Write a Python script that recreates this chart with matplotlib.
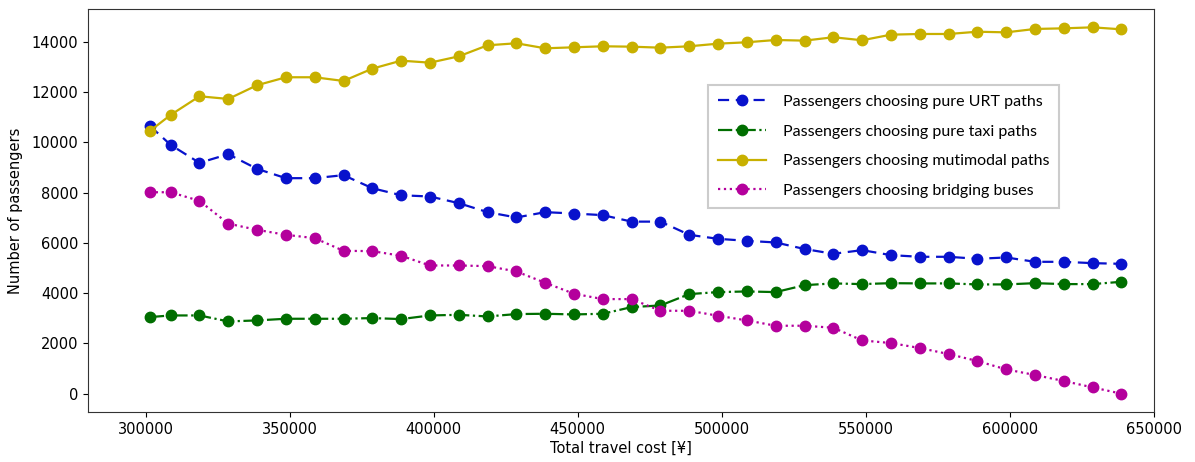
import matplotlib
matplotlib.use("Agg")
import matplotlib.pyplot as plt

# Total travel cost (¥) for each scenario
cost = [301500, 308700, 318700, 328700, 338700, 348700, 358700, 368700, 378700,
        388700, 398700, 408700, 418700, 428700, 438700, 448700, 458700, 468700,
        478700, 488700, 498700, 508700, 518700, 528700, 538700, 548700, 558700,
        568700, 578700, 588700, 598700, 608700, 618700, 628700, 638700]

urt = [10660, 9905, 9190, 9535, 8950, 8580, 8580, 8700, 8180, 7900, 7850, 7585,
       7227, 7015, 7227, 7173, 7108, 6850, 6850, 6325, 6165, 6086, 6020, 5760,
       5569, 5715, 5516, 5450, 5450, 5370, 5423, 5250, 5250, 5197, 5170]

taxi = [3050, 3115, 3115, 2877, 2917, 2983, 2983, 2983, 3010, 2970, 3115, 3140,
        3075, 3170, 3182, 3155, 3182, 3448, 3513, 3965, 4045, 4070, 4045, 4320,
        4390, 4363, 4400, 4390, 4390, 4350, 4350, 4400, 4363, 4363, 4455]

multimodal = [10460, 11098, 11840, 11734, 12280, 12597, 12597, 12450, 12940,
              13258, 13178, 13430, 13870, 13950, 13750, 13790, 13830, 13815,
              13775, 13830, 13935, 13990, 14081, 14055, 14190, 14070, 14293,
              14320, 14320, 14410, 14385, 14520, 14545, 14585, 14505]

bus = [8020, 8020, 7677, 6770, 6523, 6325, 6192, 5688, 5675, 5490, 5104, 5104,
       5078, 4866, 4415, 3978, 3766, 3766, 3301, 3301, 3103, 2917, 2705, 2705,
       2625, 2120, 2017, 1818, 1579, 1300, 967, 744, 505, 251, 0]

labels = ["Passengers choosing pure URT paths",
          "Passengers choosing pure taxi paths",
          "Passengers choosing mutimodal paths",
          "Passengers choosing bridging buses"]

plt.rcParams["font.family"] = ["DejaVu Sans"]
plt.rcParams["font.size"] = 10.5

fig = plt.figure(figsize=(11.95, 4.62), dpi=100)
ax = fig.add_axes([0.0736, 0.1082, 0.8921, 0.8723])

ms = 7.5
lw = 1.6
ax.plot(cost, urt, linestyle="--", marker="o", color="#0812cc", ms=ms, lw=lw,
        dashes=(5, 3), label=labels[0])
ax.plot(cost, taxi, linestyle="-.", marker="o", color="#006e00", ms=ms, lw=lw,
        label=labels[1])
ax.plot(cost, multimodal, linestyle="-", marker="o", color="#c8b000", ms=ms, lw=lw,
        label=labels[2])
ax.plot(cost, bus, linestyle=":", marker="o", color="#b4009c", ms=ms, lw=lw,
        label=labels[3])

ax.set_xlim(280000, 650000)
ax.set_xticks([300000, 350000, 400000, 450000, 500000, 550000, 600000, 650000])
ax.set_yticks([0, 2000, 4000, 6000, 8000, 10000, 12000, 14000])
ax.set_xlabel("Total travel cost [¥]", labelpad=3)
ax.set_ylabel("Number of passengers", labelpad=6)

for s in ax.spines.values():
    s.set_color("#333333")

leg = ax.legend(loc="upper left", bbox_to_anchor=(0.582, 0.811),
                prop={"family": "Lato", "size": 11.5}, fancybox=False,
                edgecolor="#cccccc", framealpha=1, handlelength=3.0,
                handletextpad=1.05, labelspacing=0.97, borderpad=0.6,
                borderaxespad=0)
leg.get_frame().set_linewidth(1.5)

fig.savefig("out.png", dpi=100)
